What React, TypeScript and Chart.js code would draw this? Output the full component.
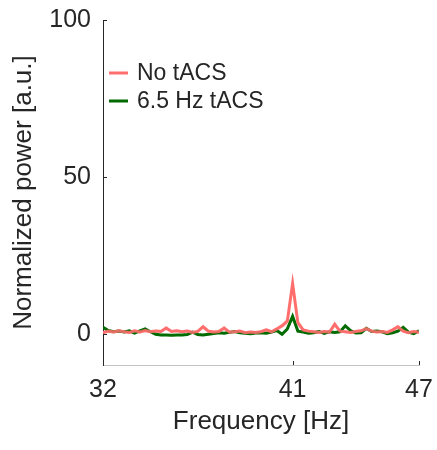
import React, { useEffect, useRef } from "react";
import { Chart, registerables } from "chart.js";

Chart.register(...registerables);

const freqs = [
  32, 32.25, 32.5, 32.75, 33, 33.25, 33.5, 33.75, 34, 34.25, 34.5, 34.75,
  35, 35.25, 35.5, 35.75, 36, 36.25, 36.5, 36.75, 37, 37.25, 37.5, 37.75,
  38, 38.25, 38.5, 38.75, 39, 39.25, 39.5, 39.75, 40, 40.25, 40.5, 40.75,
  41, 41.25, 41.5, 41.75, 42, 42.25, 42.5, 42.75, 43, 43.25, 43.5, 43.75,
  44, 44.25, 44.5, 44.75, 45, 45.25, 45.5, 45.75, 46, 46.25, 46.5, 46.75, 47,
];

const noTacs = [
  0.3, 0.8, 0.5, 0.9, 0.6, 0.4, 0.9, 0.5, 1.0, 0.6, 0.8, 0.7,
  1.8, 0.7, 0.9, 0.6, 0.8, 0.4, 0.7, 2.2, 0.8, 0.5, 0.7, 1.8,
  0.5, 0.6, 0.8, 0.3, 0.5, 0.4, 0.6, 1.2, 0.6, 1.5, 2.5, 4.0,
  16.0, 3.5, 1.2, 0.8, 0.6, 0.4, 0.7, 0.5, 3.0, 0.8, 0.6, 0.4,
  0.7, 0.9, 1.6, 0.8, 0.5, 0.7, 0.4, 1.2, 2.2, 0.8, 0.3, 0.7, 0.4,
];

const noTacsErr = [
  0.6, 0.5, 0.5, 0.5, 0.5, 0.5, 0.5, 0.5, 0.6, 0.5, 0.5, 0.5,
  0.7, 0.5, 0.5, 0.5, 0.5, 0.5, 0.5, 0.8, 0.5, 0.5, 0.5, 0.7,
  0.5, 0.5, 0.5, 0.5, 0.5, 0.5, 0.5, 0.6, 0.5, 0.6, 0.8, 1.2,
  2.0, 1.2, 0.6, 0.5, 0.5, 0.5, 0.5, 0.5, 1.0, 0.5, 0.5, 0.5,
  0.5, 0.5, 0.6, 0.5, 0.5, 0.5, 0.5, 0.6, 0.8, 0.5, 0.5, 0.5, 0.5,
];

const tacs65 = [
  2.0, 1.0, 0.6, 0.8, 0.5, 0.9, 0.2, 0.9, 1.5, 0.6, -0.2, -0.4,
  -0.4, -0.5, -0.4, -0.4, -0.3, 0.5, -0.3, -0.4, -0.2, 0.0, 0.3, 0.1,
  0.4, 0.7, 0.3, 0.1, 0.0, 0.2, 0.3, 0.1, 0.5, 1.0, -0.2, 1.5,
  5.5, 0.8, 0.5, 0.1, 0.3, 0.7, 0.1, 0.6, 0.4, 0.6, 2.5, 1.0,
  0.2, 0.3, 1.7, 0.7, 0.8, 0.6, 0.0, 0.3, 0.8, 2.0, 0.5, 0.0, 0.9,
];

const tacs65Err = [
  0.6, 0.5, 0.4, 0.4, 0.4, 0.4, 0.4, 0.4, 0.5, 0.4, 0.5, 0.5,
  0.4, 0.4, 0.4, 0.4, 0.4, 0.5, 0.5, 0.4, 0.4, 0.4, 0.4, 0.4,
  0.4, 0.4, 0.4, 0.4, 0.4, 0.4, 0.4, 0.4, 0.4, 0.5, 0.5, 0.6,
  1.4, 0.6, 0.4, 0.4, 0.4, 0.4, 0.4, 0.4, 0.4, 0.4, 0.7, 0.5,
  0.4, 0.4, 0.6, 0.4, 0.4, 0.4, 0.4, 0.4, 0.5, 0.7, 0.5, 0.4, 0.5,
];

const xTicks = [32, 41, 47];
const yTicks = [0, 50, 100];
const seriesNames = ["No tACS", "6.5 Hz tACS"];

const RED = "rgb(255,110,110)";
const GREEN = "rgb(0,105,0)";
const TEXT = "#262626";
const FONT = "'Liberation Sans', Arial, sans-serif";

const pts = (vals: number[]) => freqs.map((f, i) => ({ x: f, y: vals[i] }));
const band = (vals: number[], err: number[], s: number) =>
  freqs.map((f, i) => ({ x: f, y: vals[i] + s * err[i] }));

const overlayPlugin = {
  id: "overlay",
  afterDraw(chart: any) {
    const { ctx, chartArea, scales } = chart;
    ctx.save();
    // inward tick marks
    ctx.strokeStyle = TEXT;
    ctx.lineWidth = 1;
    xTicks.forEach((v) => {
      const px = Math.round(scales.x.getPixelForValue(v)) + 0.5;
      ctx.beginPath();
      ctx.moveTo(px, chartArea.bottom);
      ctx.lineTo(px, chartArea.bottom - 4);
      ctx.stroke();
    });
    yTicks.forEach((v) => {
      const py = Math.round(scales.y.getPixelForValue(v)) + 0.5;
      ctx.beginPath();
      ctx.moveTo(chartArea.left, py);
      ctx.lineTo(chartArea.left + 4, py);
      ctx.stroke();
    });
    // legend
    const colors = [RED, GREEN];
    ctx.font = `23px ${FONT}`;
    ctx.textBaseline = "middle";
    ctx.textAlign = "left";
    seriesNames.forEach((name, i) => {
      const y = chartArea.top + 53 + i * 28;
      const x0 = chartArea.left + 6;
      ctx.strokeStyle = colors[i];
      ctx.lineWidth = 3;
      ctx.beginPath();
      ctx.moveTo(x0, y);
      ctx.lineTo(x0 + 19, y);
      ctx.stroke();
      ctx.fillStyle = TEXT;
      ctx.fillText(name, x0 + 28, y + 1);
    });
    ctx.restore();
  },
};

export default function App() {
  const ref = useRef<HTMLCanvasElement | null>(null);

  useEffect(() => {
    if (!ref.current) return;
    const lineCommon = { pointRadius: 0, borderWidth: 3, tension: 0 };
    const chart = new Chart(ref.current, {
      type: "line",
      data: {
        datasets: [
          { label: "rlo", data: band(noTacs, noTacsErr, -1), borderWidth: 0, pointRadius: 0, fill: false, borderColor: "transparent" },
          { label: "rhi", data: band(noTacs, noTacsErr, 1), borderWidth: 0, pointRadius: 0, fill: "-1", backgroundColor: "rgba(255,110,110,0.22)", borderColor: "transparent" },
          { label: "glo", data: band(tacs65, tacs65Err, -1), borderWidth: 0, pointRadius: 0, fill: false, borderColor: "transparent" },
          { label: "ghi", data: band(tacs65, tacs65Err, 1), borderWidth: 0, pointRadius: 0, fill: "-1", backgroundColor: "rgba(0,120,0,0.15)", borderColor: "transparent" },
          { label: seriesNames[0], data: pts(noTacs), borderColor: RED, fill: false, ...lineCommon },
          { label: seriesNames[1], data: pts(tacs65), borderColor: GREEN, fill: false, ...lineCommon },
        ],
      },
      options: {
        animation: false,
        responsive: false,
        maintainAspectRatio: false,
        layout: { padding: { left: 0, right: 18, top: 20, bottom: 0 } },
        plugins: { legend: { display: false }, tooltip: { enabled: false } },
        scales: {
          x: {
            type: "linear",
            min: 32,
            max: 47,
            afterBuildTicks: (s: any) => {
              s.ticks = xTicks.map((v) => ({ value: v }));
            },
            afterFit: (s: any) => {
              s.height = 85;
              s.paddingLeft = 0;
              s.paddingRight = 0;
              s.paddingTop = 0;
              s.paddingBottom = 0;
            },
            ticks: { font: { family: FONT, size: 25 }, color: TEXT, padding: 10, maxRotation: 0, autoSkip: false },
            grid: { display: false, drawTicks: false },
            border: { display: true, color: "#c4c4c4", width: 1 },
            title: { display: true, text: "Frequency [Hz]", font: { family: FONT, size: 26 }, color: TEXT, padding: { top: 0, bottom: 13 } },
          },
          y: {
            type: "linear",
            min: -10,
            max: 100,
            afterBuildTicks: (s: any) => {
              s.ticks = yTicks.map((v) => ({ value: v }));
            },
            afterFit: (s: any) => {
              s.width = 103;
              s.paddingLeft = 0;
              s.paddingRight = 0;
              s.paddingTop = 0;
              s.paddingBottom = 0;
            },
            ticks: { font: { family: FONT, size: 25 }, color: TEXT, padding: 12, autoSkip: false },
            grid: { display: false, drawTicks: false },
            border: { display: true, color: TEXT, width: 1 },
            title: { display: true, text: "Normalized power [a.u.]", font: { family: FONT, size: 26 }, color: TEXT, padding: { top: 8, bottom: 0 } },
          },
        },
      },
      plugins: [overlayPlugin],
    } as any);
    return () => chart.destroy();
  }, []);

  return (
    <div style={{ position: "absolute", left: 0, top: 0, width: 437, height: 450, background: "#fff" }}>
      <canvas ref={ref} width={437} height={450} style={{ width: 437, height: 450, display: "block" }} />
    </div>
  );
}
